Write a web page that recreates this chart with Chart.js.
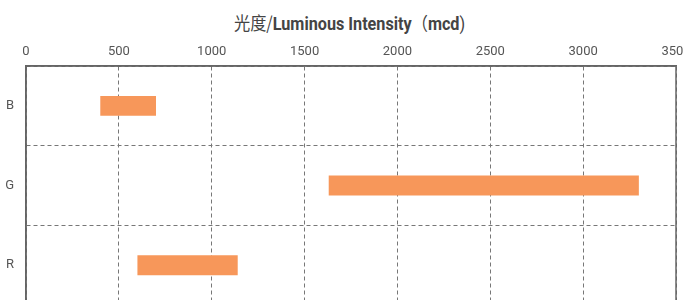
<!DOCTYPE html>
<html>
<head>
<meta charset="utf-8">
<script src="https://cdn.jsdelivr.net/npm/chart.js@4.4.1/dist/chart.umd.min.js"></script>
<style>
  html, body { margin: 0; padding: 0; background: #fff; overflow: hidden; }
  body { width: 683px; height: 300px; position: relative; }
  #title {
    position: absolute; left: 8px; top: 9px; width: 683px; text-align: center;
    font-size: 18px; color: #444; white-space: nowrap;
    font-family: Roboto, sans-serif;
    transform: scaleX(0.9); transform-origin: 342px 0;
  }
  #title .cjk { font-family: 'Noto Sans CJK SC', sans-serif; font-weight: normal; font-size: 18px; }
  #title b { font-weight: bold; }
  #chart { position: absolute; left: 0; top: 0; }
</style>
</head>
<body>
<div id="title"><span class="cjk">光度/</span><b>Luminous Intensity</b><span class="cjk">（</span><b>mcd</b>)</div>
<canvas id="chart" width="700" height="305"></canvas>
<script>
'use strict';

var CATEGORIES = ['B', 'G', 'R'];
var RANGE_LOW  = [400, 1630, 600];
var RANGE_HIGH = [700, 3300, 1140];
var X_TICKS    = [0, 500, 1000, 1500, 2000, 2500, 3000, 3500];

var TICK_FONT = { family: 'Roboto, sans-serif', size: 13 };

/* solid frame around the plot area */
var framePlugin = {
  id: 'frame',
  afterDraw: function(chart) {
    var a = chart.chartArea, ctx = chart.ctx;
    ctx.save();
    ctx.strokeStyle = '#666';
    ctx.lineWidth = 1.5;
    ctx.strokeRect(a.left, a.top, a.right - a.left, a.bottom - a.top);
    ctx.restore();
  }
};

// drop the label overhang padding and pin the axis size
function noOverhang(s) { s.paddingLeft = 0; s.paddingRight = 0; s.paddingTop = 0; s.paddingBottom = 0; }

new Chart(document.getElementById('chart').getContext('2d'), {
  type: 'bar',
  data: {
    labels: CATEGORIES,
    datasets: [{
      data: CATEGORIES.map(function(c, i) { return [RANGE_LOW[i], RANGE_HIGH[i]]; }),
      backgroundColor: '#F7975A',
      borderWidth: 0,
      borderSkipped: false,
      barPercentage: 0.5,
      categoryPercentage: 0.5
    }]
  },
  options: {
    indexAxis: 'y',
    responsive: false,
    animation: false,
    layout: { padding: { top: 42, left: 5, right: 24, bottom: 0 } },
    plugins: { legend: { display: false }, tooltip: { enabled: false }, title: { display: false } },
    scales: {
      x: {
        position: 'top', min: 0, max: 3500,
        afterBuildTicks: function(s) { s.ticks = X_TICKS.map(function(v) { return { value: v }; }); },
        afterFit: function(s) { noOverhang(s); s.height = 24; },
        ticks: {
          color: '#555', font: TICK_FONT, padding: 6, maxRotation: 0,
          callback: function(v) { return String(v); }
        },
        grid: { color: '#777', lineWidth: 1, drawTicks: false },
        border: { display: true, color: '#666', width: 1.5, dash: [4, 3] }
      },
      y: {
        afterFit: function(s) { noOverhang(s); s.width = 21; },
        ticks: { color: '#555', font: TICK_FONT, padding: 12 },
        grid: { color: '#777', lineWidth: 1, drawTicks: false, offset: true },
        border: { display: true, color: '#666', width: 1.5, dash: [4, 3] }
      }
    }
  },
  plugins: [framePlugin]
});
</script>
</body>
</html>
